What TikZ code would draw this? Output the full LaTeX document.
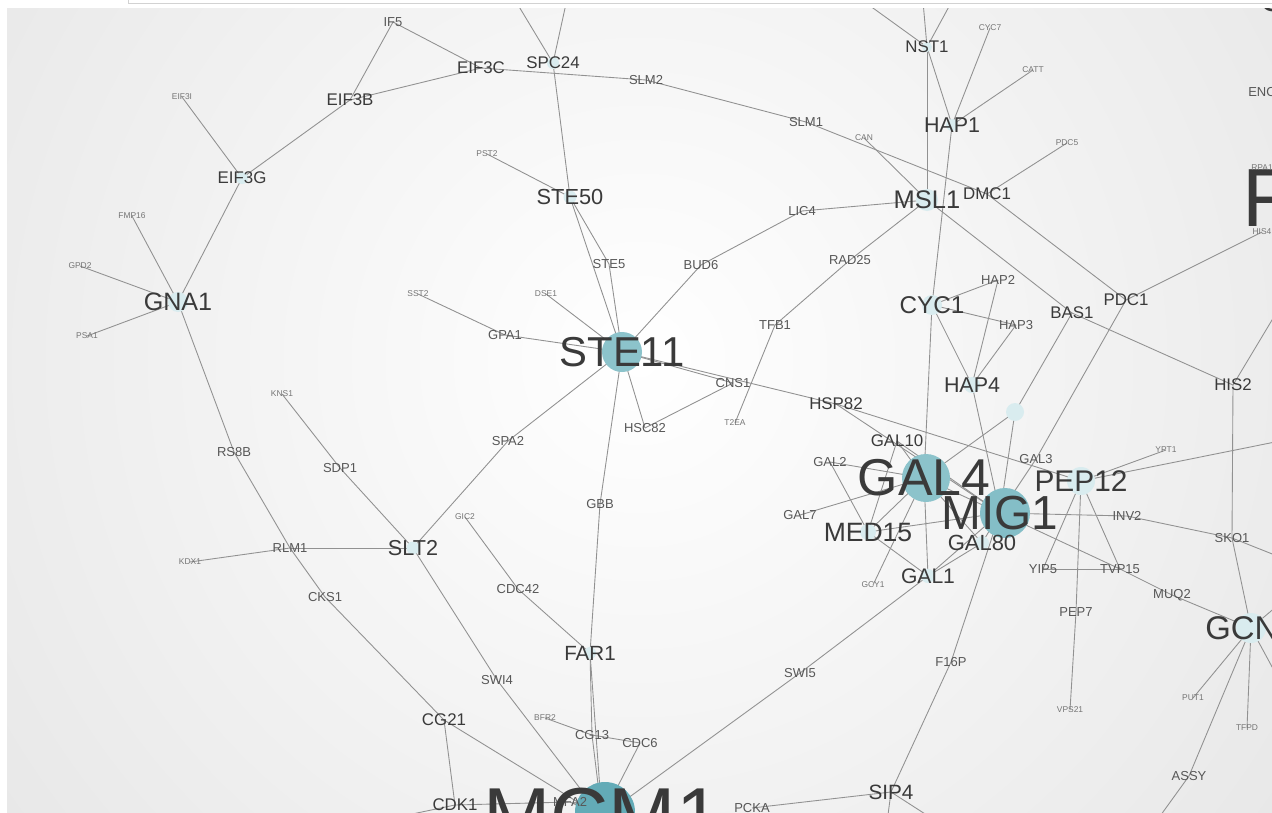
\documentclass[tikz,border=0pt]{standalone}
\usepackage{fontspec}
\setmainfont{Liberation Sans}
\usepackage{xcolor}
\usepackage{tikz}

\definecolor{edgegray}{HTML}{919191}
\definecolor{labelgray}{HTML}{3A3A3A}
\definecolor{bggray}{HTML}{CDCDCD}
\definecolor{hubteal}{HTML}{8CC3CB}
\definecolor{hubdark}{HTML}{63ABB7}
\definecolor{paleblue}{HTML}{D9ECEF}

\pgfdeclarelayer{bg}
\pgfdeclarelayer{edges}
\pgfdeclarelayer{discs}
\pgfsetlayers{bg,edges,discs,main}

\begin{document}
\begin{tikzpicture}[x=0.02cm, y=-0.02cm,
    gene/.style={font=\fontsize{#1}{#1}\selectfont, text=labelgray, inner sep=0pt},
    tinygene/.style={gene=4.8, text=labelgray!70},
    smallgene/.style={gene=7.4, text=labelgray!85},
    midgene/.style={gene=9.6},
    link/.style={edgegray, line width=0.5pt}]
  \useasboundingbox (0,0) rectangle (1272,812);

  \begin{pgfonlayer}{bg}
    \fill[white] (0,0) rectangle (1272,812);
    \begin{scope}
      \clip (7,8) rectangle (1272,812);
      \shade[inner color=white, outer color=bggray] (640,360) circle (34cm);
    \end{scope}
    \draw[gray!35, fill=white] (128,-10) rectangle (1290,3);
  \end{pgfonlayer}

  \begin{scope}
    \clip (7,8) rectangle (1272,812);
    % upper left
    \node[smallgene] (IF5) at (393,22) {IF5};
    \node[midgene] (EIF3C) at (481,68) {EIF3C};
    \node[midgene] (SPC24) at (553,63) {SPC24};
    \node[smallgene] (SLM2) at (646,80) {SLM2};
    \node[midgene] (EIF3B) at (350,100) {EIF3B};
    \node[tinygene] (EIF3I) at (182,97) {EIF3I};
    \node[midgene] (EIF3G) at (242,178) {EIF3G};
    \node[tinygene] (FMP16) at (132,216) {FMP16};
    \node[tinygene] (GPD2) at (80,266) {GPD2};
    \node[gene=14.3] (GNA1) at (178,302) {GNA1};
    \node[tinygene] (PSA1) at (87,336) {PSA1};
    \node[tinygene] (PST2) at (487,154) {PST2};
    \node[gene=12.4] (STE50) at (570,197) {STE50};
    % upper right
    \node[smallgene] (SLM1) at (806,122) {SLM1};
    \node[tinygene] (CAN) at (864,138) {CAN};
    \node[midgene] (NST1) at (927,47) {NST1};
    \node[tinygene] (CYC7) at (990,28) {CYC7};
    \node[tinygene] (CATT) at (1033,70) {CATT};
    \node[gene=12.2] (HAP1) at (952,125) {HAP1};
    \node[tinygene] (PDC5) at (1067,143) {PDC5};
    \node[gene=14.5] (MSL1) at (927,200) {MSL1};
    \node[midgene] (DMC1) at (987,194) {DMC1};
    \node[smallgene] (LIC4) at (802,211) {LIC4};
    \node[smallgene] (BUD6) at (701,265) {BUD6};
    \node[smallgene] (STE5) at (609,264) {STE5};
    \node[smallgene] (RAD25) at (850,260) {RAD25};
    \node[smallgene] (ENO1) at (1266,92) {ENO1};
    \node[gene=47] (Fhub) at (1268,198) {F};
    \node[tinygene] (RPA1) at (1262,168) {RPA1};
    \node[tinygene] (HIS4) at (1262,232) {HIS4};
    \node[gene=19] (Ctop) at (1272,0) {C};
    % middle
    \node[tinygene] (SST2) at (418,294) {SST2};
    \node[tinygene] (DSE1) at (546,294) {DSE1};
    \node[smallgene] (GPA1) at (505,335) {GPA1};
    \node[gene=23.8] (STE11) at (622,352) {STE11};
    \node[smallgene] (TFB1) at (775,325) {TFB1};
    \node[gene=13.8] (CYC1) at (932,305) {CYC1};
    \node[smallgene] (HAP2) at (998,280) {HAP2};
    \node[smallgene] (HAP3) at (1016,325) {HAP3};
    \node[midgene] (BAS1) at (1072,313) {BAS1};
    \node[midgene] (PDC1) at (1126,300) {PDC1};
    \node[gene=12.2] (HAP4) at (972,385) {HAP4};
    \node[midgene] (HIS2) at (1233,385) {HIS2};
    \node[smallgene] (CNS1) at (733,383) {CNS1};
    \node[midgene] (HSP82) at (836,404) {HSP82};
    \node[tinygene] (T2EA) at (735,423) {T2EA};
    \node[smallgene] (HSC82) at (645,428) {HSC82};
    \node[tinygene] (KNS1) at (282,394) {KNS1};
    \node[smallgene] (RS8B) at (234,452) {RS8B};
    \node[smallgene] (SPA2) at (508,441) {SPA2};
    \node[smallgene] (SDP1) at (340,468) {SDP1};
    \node[gene=5] (blank) at (1015,412) {};
    % galactose cluster
    \node[midgene] (GAL10) at (897,441) {GAL10};
    \node[smallgene] (GAL3) at (1036,459) {GAL3};
    \node[tinygene] (YPT1) at (1166,450) {YPT1};
    \node[smallgene] (GAL2) at (830,462) {GAL2};
    \node[gene=29.5] (GAL4) at (924,478) {GAL4};
    \node[gene=17] (PEP12) at (1081,481) {PEP12};
    \node[gene=27.2] (MIG1) at (1000,513) {MIG1};
    \node[smallgene] (GAL7) at (800,515) {GAL7};
    \node[gene=15.1] (MED15) at (868,532) {MED15};
    \node[gene=12.5] (GAL80) at (982,543) {GAL80};
    \node[smallgene] (INV2) at (1127,516) {INV2};
    \node[smallgene] (SKO1) at (1232,538) {SKO1};
    \node[gene=12] (GAL1) at (928,576) {GAL1};
    \node[tinygene] (GCY1) at (873,585) {GCY1};
    \node[smallgene] (YIP5) at (1043,569) {YIP5};
    \node[smallgene] (TVP15) at (1120,569) {TVP15};
    \node[smallgene] (MUQ2) at (1172,595) {MUQ2};
    \node[smallgene] (PEP7) at (1076,612) {PEP7};
    \node[gene=18.7] (GCN4) at (1251,628) {GCN4};
    % lower part
    \node[smallgene] (GBB) at (600,504) {GBB};
    \node[tinygene] (GIC2) at (465,517) {GIC2};
    \node[tinygene] (KDX1) at (190,562) {KDX1};
    \node[smallgene] (RLM1) at (290,548) {RLM1};
    \node[gene=12.3] (SLT2) at (413,548) {SLT2};
    \node[smallgene] (CKS1) at (325,597) {CKS1};
    \node[smallgene] (CDC42) at (518,589) {CDC42};
    \node[gene=11.7] (FAR1) at (590,653) {FAR1};
    \node[smallgene] (F16P) at (951,662) {F16P};
    \node[smallgene] (SWI5) at (800,673) {SWI5};
    \node[smallgene] (SWI4) at (497,680) {SWI4};
    \node[tinygene] (VPS21) at (1070,710) {VPS21};
    \node[tinygene] (PUT1) at (1193,698) {PUT1};
    \node[tinygene] (TFPD) at (1247,728) {TFPD};
    \node[midgene] (CG21) at (444,720) {CG21};
    \node[tinygene] (BFR2) at (545,718) {BFR2};
    \node[smallgene] (CG13) at (592,735) {CG13};
    \node[smallgene] (CDC6) at (640,743) {CDC6};
    \node[smallgene] (ASSY) at (1189,776) {ASSY};
    \node[gene=11.8] (SIP4) at (891,792) {SIP4};
    \node[midgene] (CDK1) at (455,805) {CDK1};
    \node[smallgene] (MFA2) at (570,802) {MFA2};
    \node[gene=46] (MCM1) at (602,817) {MCM1};
    \node[smallgene] (PCKA) at (752,808) {PCKA};
  \end{scope}

  % loose ends running out of the frame
  \coordinate (offSPa) at (509,-10);
  \coordinate (offSPb) at (569,-10);
  \coordinate (offNa) at (848,-10);
  \coordinate (offNb) at (922,-10);
  \coordinate (offNc) at (958,-10);
  \coordinate (offH) at (1290,290);
  \coordinate (offP) at (1300,437);
  \coordinate (offS) at (1300,565);
  \coordinate (offGa) at (1290,595);
  \coordinate (offGb) at (1290,700);
  \coordinate (offA) at (1150,830);
  \coordinate (offSIa) at (886,830);
  \coordinate (offSIb) at (950,830);
  \coordinate (offC) at (360,825);

  \begin{pgfonlayer}{edges}
    \begin{scope}
      \clip (7,8) rectangle (1272,812);
      \foreach \a/\b in {IF5/EIF3C, IF5/EIF3B, EIF3B/EIF3C, EIF3B/EIF3G, EIF3I/EIF3G,
          EIF3G/GNA1, FMP16/GNA1, GPD2/GNA1, PSA1/GNA1, GNA1/RS8B, RS8B/RLM1,
          KDX1/RLM1, RLM1/SLT2, RLM1/CKS1, CKS1/CG21, CG21/MCM1, CG21/CDK1,
          CDK1/MFA2, MFA2/MCM1, KNS1/SDP1, SDP1/SLT2, SLT2/SPA2, SPA2/STE11,
          SLT2/SWI4, SWI4/MCM1, GIC2/CDC42, CDC42/FAR1, STE11/GBB, GBB/FAR1,
          FAR1/MCM1, FAR1/CG13, CG13/MCM1, BFR2/CG13, CG13/CDC6, CDC6/MCM1,
          MCM1/SWI5, SWI5/GAL1, PCKA/SIP4, SIP4/F16P, F16P/MIG1,
          EIF3C/SLM2, SPC24/STE50, SLM2/SLM1, SLM1/DMC1, CAN/MSL1, NST1/MSL1,
          NST1/HAP1, HAP1/CYC7, HAP1/CATT, HAP1/CYC1, DMC1/PDC5, MSL1/LIC4,
          LIC4/BUD6, BUD6/STE11, MSL1/RAD25, RAD25/TFB1, TFB1/T2EA, MSL1/BAS1,
          BAS1/HIS2, DMC1/PDC1, PDC1/HIS4, CYC1/HAP2, CYC1/HAP3, CYC1/HAP4,
          CYC1/GAL4, HAP2/HAP4, HAP3/HAP4, HAP4/MIG1, BAS1/blank, blank/GAL4,
          blank/MIG1, PDC1/GAL3, GAL3/MIG1, HIS2/SKO1, SKO1/GCN4, INV2/SKO1,
          MIG1/INV2, PEP12/YPT1, HSP82/PEP12, HSP82/MIG1, STE11/HSP82,
          STE11/CNS1, CNS1/HSC82, STE11/HSC82, PEP12/YIP5, PEP12/PEP7,
          PEP12/TVP15, YIP5/TVP15, MIG1/TVP15, TVP15/MUQ2, MUQ2/GCN4,
          PEP7/VPS21, GCN4/PUT1, GCN4/TFPD, GCN4/ASSY, GAL10/GAL4, GAL2/GAL4,
          GAL7/GAL4, MED15/GAL4, GAL1/GAL4, GAL4/MIG1, GAL10/MED15, GAL2/MED15,
          GAL10/MIG1, MED15/MIG1, GAL1/GAL80, GAL1/MIG1, GAL1/MED15, GCY1/GAL4,
          GAL4/GAL80, MIG1/GAL80, STE50/STE11, STE50/STE5, STE5/STE11,
          PST2/STE50, DSE1/STE11, GPA1/STE11, SST2/GPA1}
        \draw[link] (\a.center) -- (\b.center);
      \foreach \a/\b in {SPC24/offSPa, SPC24/offSPb, NST1/offNa, NST1/offNb,
          NST1/offNc, HIS2/offH, PEP12/offP, SKO1/offS, GCN4/offGa, GCN4/offGb,
          ASSY/offA, SIP4/offSIa, SIP4/offSIb, CDK1/offC}
        \draw[link] (\a.center) -- (\b);
    \end{scope}
  \end{pgfonlayer}

  \begin{pgfonlayer}{discs}
    \begin{scope}
      \clip (7,8) rectangle (1272,812);
      \foreach \n/\r in {GNA1/0.2, MSL1/0.22, CYC1/0.2, blank/0.18, HAP4/0.16,
          PEP12/0.28, GCN4/0.3, STE50/0.13, SPC24/0.12, EIF3G/0.12, SLT2/0.13,
          FAR1/0.12, GAL1/0.14, MED15/0.16, GAL80/0.14, HAP1/0.12, NST1/0.1}
        \fill[paleblue] (\n.center) circle (\r cm);
      \fill[hubteal] (622,352) circle (0.4cm);
      \fill[hubteal] (926,478) circle (0.48cm);
      \fill[hubteal!80!hubdark] (1005,513) circle (0.5cm);
      \fill[hubdark] (605,812) circle (0.6cm);
    \end{scope}
  \end{pgfonlayer}
\end{tikzpicture}
\end{document}
